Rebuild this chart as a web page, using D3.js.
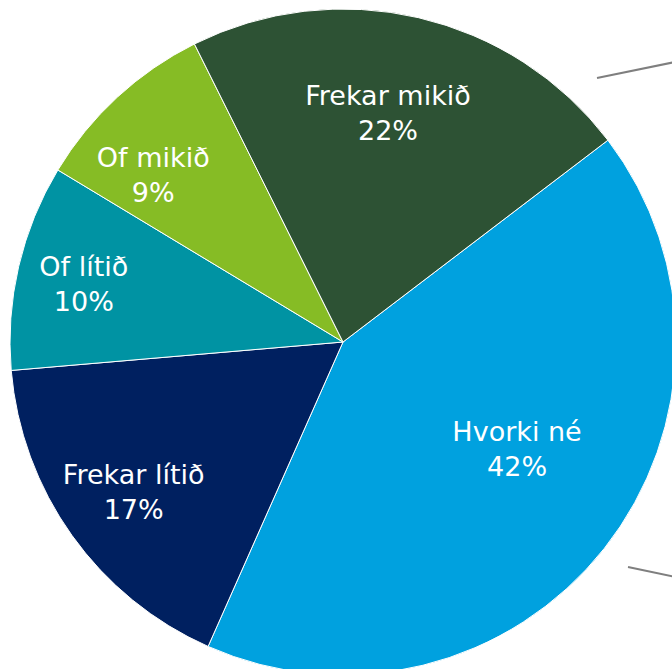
<!DOCTYPE html>
<html>
<head>
<meta charset="utf-8">
<script src="https://cdn.jsdelivr.net/npm/d3@7"></script>
<style>
  body { margin: 0; background: #fff; }
  svg { display: block; }
</style>
</head>
<body>
<svg id="pieChart" width="672" height="669"></svg>
<script>
const categories = ["Hvorki né", "Frekar lítið", "Of lítið", "Of mikið", "Frekar mikið"];
const values = [42, 17, 10, 9, 22];
const colors = ["#00a1df", "#002060", "#0093a3", "#86bc25", "#2d5234"];

const width = 672;
const height = 669;
const cx = 343, cy = 342;
const radius = 333;

const svg = d3.select("#pieChart");

// leader lines cut off at the right edge
svg.append("line")
    .attr("x1", 597).attr("y1", 78).attr("x2", 680).attr("y2", 61)
    .attr("stroke", "#7f7f7f").attr("stroke-width", 2);
svg.append("line")
    .attr("x1", 628).attr("y1", 567).attr("x2", 680).attr("y2", 578)
    .attr("stroke", "#7f7f7f").attr("stroke-width", 2);

const g = svg.append("g")
    .attr("transform", `translate(${cx}, ${cy})`);

const data = categories.map((c, i) => ({ label: c, value: values[i], color: colors[i] }));

const start = 52.7 * Math.PI / 180;
const pie = d3.pie()
    .value(d => d.value)
    .sort(null)
    .startAngle(start)
    .endAngle(start + 2 * Math.PI);

const arc = d3.arc()
    .outerRadius(radius)
    .innerRadius(0);

const arcs = g.selectAll(".slice")
    .data(pie(data))
    .enter()
    .append("g")
    .attr("class", "slice");

arcs.append("path")
    .attr("d", arc)
    .attr("fill", d => d.data.color)
    .attr("stroke", "#fff")
    .attr("stroke-width", 1);

// label placement: fraction of radius and angle nudge (degrees)
const labelR = [0.617, 0.777, 0.796, 0.755, 0.696];
const labelNudge = [-6.2, -0.5, -1, -6.3, -1.9];

arcs.each(function(d, i) {
    const a = (d.startAngle + d.endAngle) / 2 + labelNudge[i] * Math.PI / 180;
    const r = radius * labelR[i];
    const x = Math.sin(a) * r;
    const y = -Math.cos(a) * r;
    const t = d3.select(this).append("text")
        .attr("text-anchor", "middle")
        .attr("fill", "#fff")
        .attr("font-family", "'DejaVu Sans', Verdana, sans-serif")
        .attr("font-size", 27);
    t.append("tspan").attr("x", x).attr("y", y - 10).text(d.data.label);
    t.append("tspan").attr("x", x).attr("y", y + 25).text(d.data.value + "%");
});
</script>
</body>
</html>
